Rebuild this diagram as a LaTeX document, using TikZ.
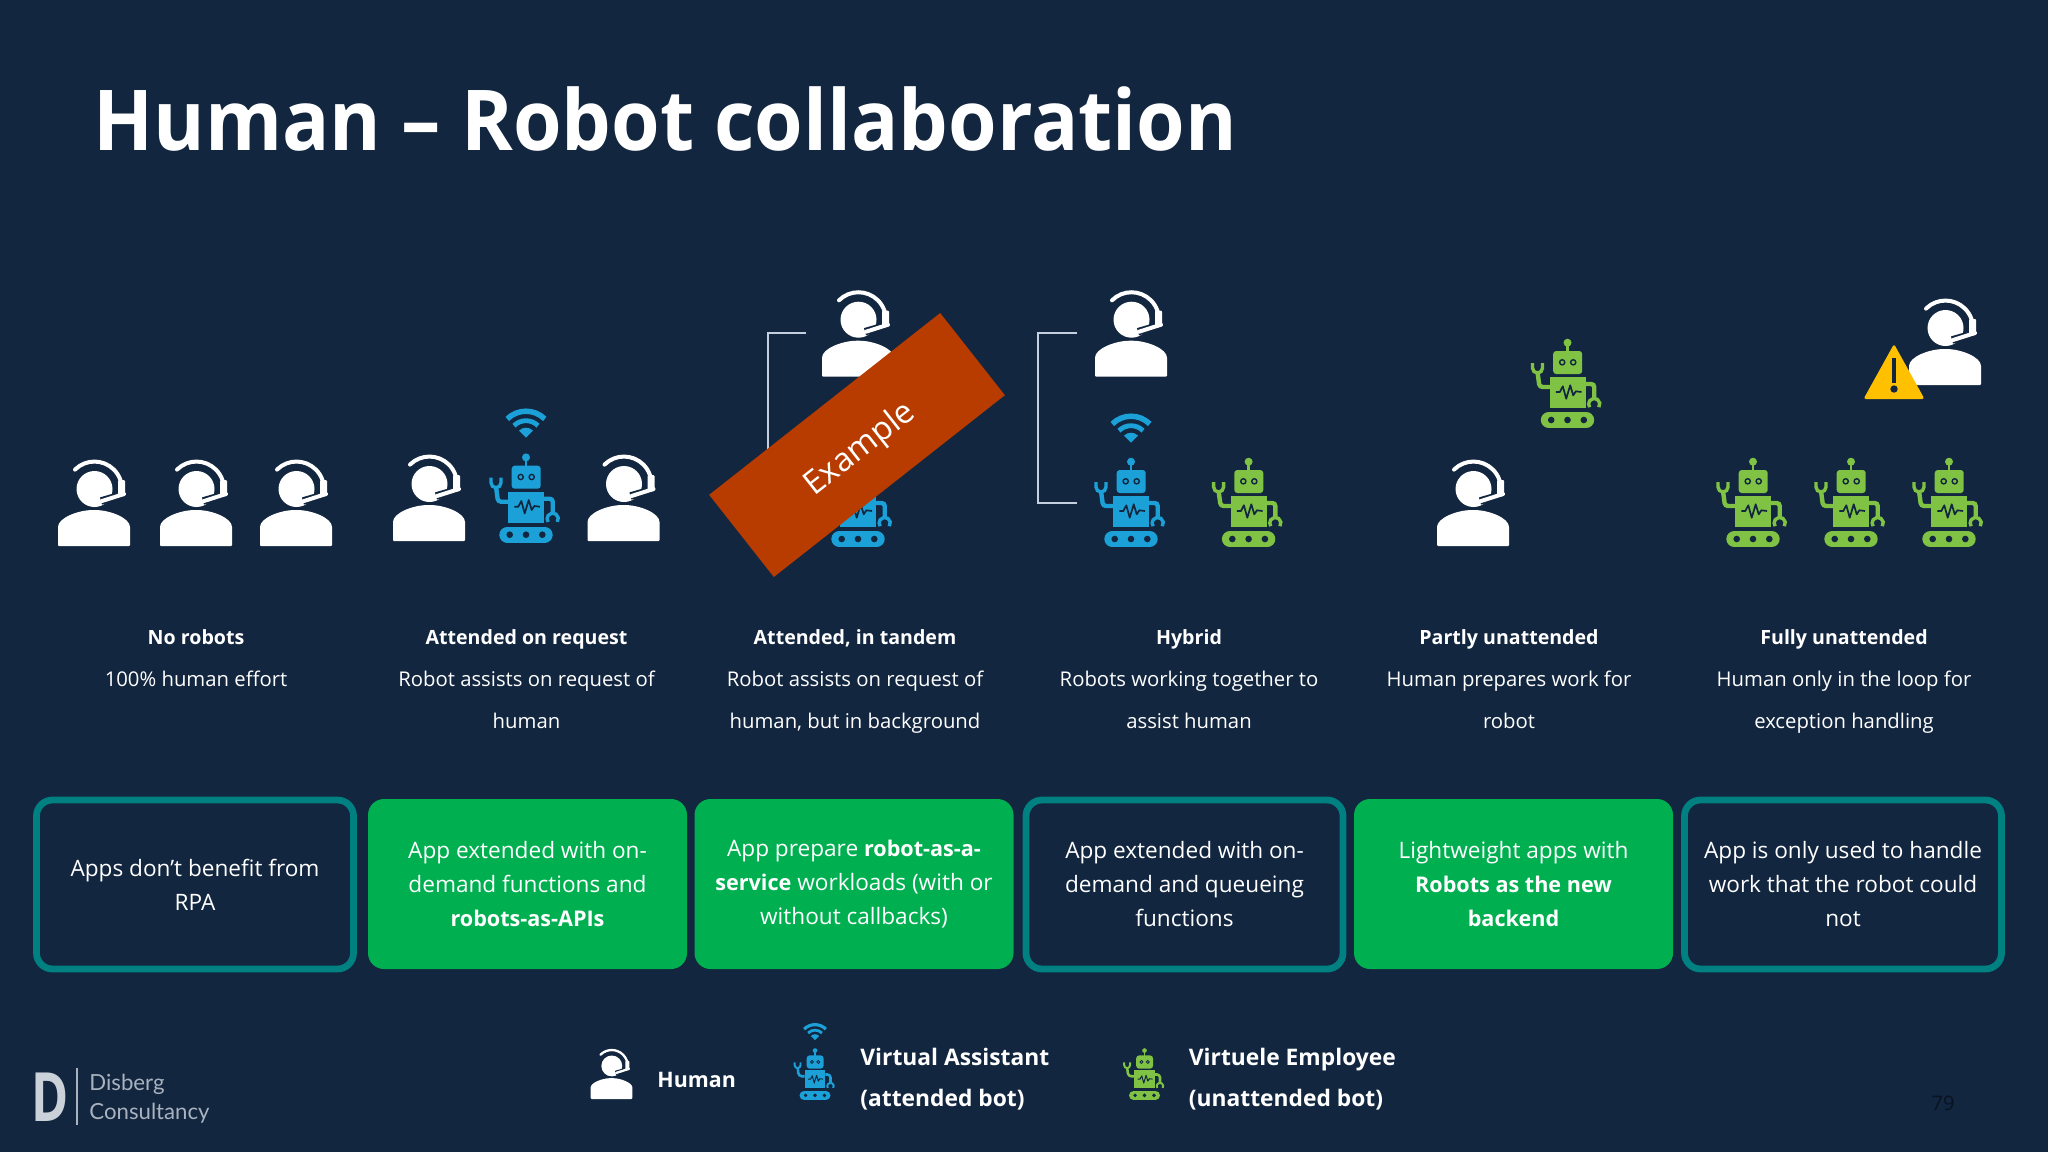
\documentclass[tikz,border=0pt]{standalone}
\usepackage{fontspec}
\setmainfont{Open Sans}
\newfontfamily\logofont{Lato}
\definecolor{bgnavy}{HTML}{12263F}
\definecolor{botblue}{HTML}{1BA1D8}
\definecolor{botgreen}{HTML}{7FC244}
\definecolor{boxgreen}{HTML}{00B050}
\definecolor{boxteal}{HTML}{008080}
\definecolor{bannerred}{HTML}{B83C00}
\definecolor{warnyellow}{HTML}{FFC000}
\definecolor{linegray}{HTML}{C4D0E0}
\definecolor{logogray}{HTML}{A9B2BE}
\newcommand\capbold[1]{{\bfseries\fontsize{9.8}{21}\selectfont #1}}
\newcommand\boxbold[1]{{\bfseries\fontsize{10.8}{17}\selectfont #1}}
\tikzset{
	iconsize/.store in=\iconsize, iconsize=1,
	ln/.style={line width=#1*0.5pt*\iconsize},
	human/.pic={
		\fill[white,rounded corners=0.5pt] (-36,0) -- (-36,18) .. controls (-36,28) and (-16,36) .. (0,36) .. controls (16,36) and (36,28) .. (36,18) -- (36,0) -- cycle;
		\fill[white] (0.5,57) circle (18);
		\draw[bgnavy,ln=7.5] (31,52) -- (7,45);
		\draw[white,ln=4,line cap=round] (-19,76.4) arc (135:-5:27.5);
		\fill[white,rounded corners=0.5pt] (24,50) rectangle (31,66);
		\draw[white,ln=4,line cap=round] (30,52) -- (8,45);
	},
	pics/robot/.style={code={
		\draw[#1,ln=16,line cap=round] (-18.7,8) -- (18.7,8);
		\fill[bgnavy] (-16.3,8) circle (3.3) (0,8) circle (3.3) (16.3,8) circle (3.3);
		\fill[#1] (-17.7,20) rectangle (18,51);
		\fill[#1,rounded corners=1.5pt] (-14.3,54) rectangle (14.7,77);
		\draw[#1,ln=2.5] (0,76) -- (0,84);
		\fill[#1] (0,85.3) circle (4);
		\draw[bgnavy,ln=1.4] (-5.3,65.7) circle (2.6) (5.7,65.7) circle (2.6);
		\draw[bgnavy,ln=1.7,line join=round] (-11.7,36) -- (-7.7,36) -- (-4.7,41.7) -- (-1.3,29.3) -- (2.7,42.7) -- (5.7,32.7) -- (8.3,36.7) -- (14,36);
		% arms
		\draw[#1,ln=4.4,rounded corners=1.5pt] (-17.7,41) -- (-28,41) -- (-30,56);
		\draw[#1,ln=3.4] (-35,65) -- (-35,60) arc (180:360:5) -- (-25,65);
		\draw[#1,ln=4.4,rounded corners=1.5pt] (18,44) -- (26.7,44) -- (26.7,29);
		\draw[#1,ln=3.4] (31.3,20.8) arc (-35:215:5.6);
	}},
	pics/wifi/.style={code={
		\draw[#1,ln=5.5] (45:26.5) arc (45:135:26.5);
		\draw[#1,ln=4.8] (45:17) arc (45:135:17);
		\fill[#1] (0,0) -- (45:10) arc (45:135:10) -- cycle;
	}},
	warning/.pic={
		\fill[warnyellow,rounded corners=1.2pt] (-30.5,0) -- (0,55) -- (30.5,0) -- cycle;
		\draw[bgnavy,ln=4] (0,16) -- (0,41);
		\fill[bgnavy] (0,10) circle (3.7);
	},
	title/.style={font=\bfseries\fontsize{42}{50}\selectfont,text=white,anchor=base west,inner sep=0pt,xscale=.935},
	caption/.style={font=\fontsize{10.15}{21}\selectfont,text=white,align=center,anchor=north,inner sep=0pt},
	appbox/.style={font=\fontsize{11.3}{17}\selectfont,text=white,align=center,inner sep=0pt,rounded corners=8pt},
	outlinebox/.style={appbox,draw=boxteal,line width=3.4pt,minimum width=158.5pt,minimum height=84.5pt},
	greenbox/.style={appbox,fill=boxgreen,minimum width=159.5pt,minimum height=85pt},
	legend/.style={font=\bfseries\fontsize{11.4}{20.7}\selectfont,text=white,align=left,anchor=west,inner sep=0pt},
	logotext/.style={font=\logofont\fontsize{11.1}{14.5}\selectfont,text=logogray,align=left,anchor=west,inner sep=0pt},
}
\begin{document}
\begin{tikzpicture}[x=0.5pt,y=0.5pt]
	\fill[bgnavy] (0,0) rectangle (2048,-1152);
	\useasboundingbox (0,0) rectangle (2048,-1152);
	\node[title] (heading) at (93,-150) {Human – Robot collaboration};
	% no robots
	\pic (hmA) at (94,-546) {human};
	\pic (hmB) at (196,-546) {human};
	\pic (hmC) at (296,-546) {human};
	% attended on request
	\pic (hmD) at (429,-541) {human};
	\pic (wfA) at (526,-437.7) {wifi=botblue};
	\pic (rbA) at (526,-542.7) {robot=botblue};
	\pic (hmE) at (623.5,-541) {human};
	% attended, in tandem
	\coordinate (brAa) at (806,-333);
	\coordinate (brAb) at (768,-333);
	\coordinate (brAc) at (768,-503);
	\coordinate (brAd) at (806,-503);
	\draw[linegray,line width=0.8pt] (brAa) -- (brAb) -- (brAc) -- (brAd);
	\pic (hmF) at (858,-376.7) {human};
	\pic (rbB) at (858,-547) {robot=botblue};
	\node[fill=bannerred,rotate=38.2,minimum width=147pt,minimum height=52.3pt,font=\fontsize{16.3}{20}\selectfont,text=white,text height=14.3pt,text depth=0pt] (banner) at (857,-445) {Example};
	% hybrid
	\coordinate (brBa) at (1077,-333);
	\coordinate (brBb) at (1038,-333);
	\coordinate (brBc) at (1038,-503);
	\coordinate (brBd) at (1077,-503);
	\draw[linegray,line width=0.8pt] (brBa) -- (brBb) -- (brBc) -- (brBd);
	\pic (hmG) at (1131,-376.7) {human};
	\pic (wfB) at (1131,-442.7) {wifi=botblue};
	\pic (rbC) at (1131,-547) {robot=botblue};
	\pic (rbD) at (1248.6,-547) {robot=botgreen};
	% partly unattended
	\pic (rbE) at (1567.5,-428) {robot=botgreen};
	\pic (hmH) at (1473,-546) {human};
	% fully unattended
	\pic (hmI) at (1945,-385) {human};
	\pic (wnA) at (1894,-399) {warning};
	\pic (rbF) at (1753,-547) {robot=botgreen};
	\pic (rbG) at (1851,-547) {robot=botgreen};
	\pic (rbH) at (1949,-547) {robot=botgreen};
	% captions
	\node[caption] (capA) at (196,-629.5) {\capbold{No robots}\\100\% human effort};
	\node[caption] (capB) at (526.5,-629.5) {\capbold{Attended on request}\\Robot assists on request of\\human};
	\node[caption] (capC) at (855,-629.5) {\capbold{Attended, in tandem}\\Robot assists on request of\\human, but in background};
	\node[caption] (capD) at (1189,-629.5) {\capbold{Hybrid}\\Robots working together to\\assist human};
	\node[caption] (capE) at (1509,-629.5) {\capbold{Partly unattended}\\Human prepares work for\\robot};
	\node[caption] (capF) at (1844,-629.5) {\capbold{Fully unattended}\\Human only in the loop for\\exception handling};
	% boxes
	\node[outlinebox] (boxA) at (195,-884.5) {Apps don’t benefit from\\RPA};
	\node[greenbox] (boxB) at (527.5,-884) {App extended with on-\\demand functions and\\\boxbold{robots-as-APIs}};
	\node[greenbox] (boxC) at (854,-884) {App prepare \boxbold{robot-as-a-}\\\boxbold{service} workloads (with or\\without callbacks)};
	\node[outlinebox] (boxD) at (1184.5,-884.5) {App extended with on-\\demand and queueing\\functions};
	\node[greenbox] (boxE) at (1513.5,-884) {Lightweight apps with\\\boxbold{Robots as the new}\\\boxbold{backend}};
	\node[outlinebox] (boxF) at (1843,-884.5) {App is only used to handle\\work that the robot could\\not};
	% legend
	\pic[scale=.58,iconsize=.58] (hmL) at (611.5,-1099) {human};
	\node[legend,font=\bfseries\fontsize{10.7}{20.7}\selectfont] (lgA) at (657,-1080) {Human};
	\pic[scale=.58,iconsize=.58] (wfL) at (815,-1040) {wifi=botblue};
	\pic[scale=.58,iconsize=.58] (rbL) at (815,-1100) {robot=botblue};
	\node[legend] (lgB) at (860,-1079) {Virtual Assistant\\(attended bot)};
	\pic[scale=.58,iconsize=.58] (rbM) at (1144.5,-1100) {robot=botgreen};
	\node[legend] (lgC) at (1188.5,-1079) {Virtuele Employee\\(unattended bot)};
	% logo
	\node[font=\bfseries\fontsize{34}{36}\selectfont,text=logogray!60!white,xscale=.74,inner sep=0pt] (logoD) at (50,-1097) {D};
	\coordinate (dvA) at (77,-1068);
	\coordinate (dvB) at (77,-1125);
	\draw[logogray,line width=0.9pt] (dvA) -- (dvB);
	\node[logotext] (logoT) at (89,-1098.5) {Disberg\\Consultancy};
	% page number
	\node[font=\fontsize{10}{12}\selectfont,text=bgnavy!50!black,inner sep=0pt] (pageno) at (1943,-1103) {79};
\end{tikzpicture}
\end{document}
